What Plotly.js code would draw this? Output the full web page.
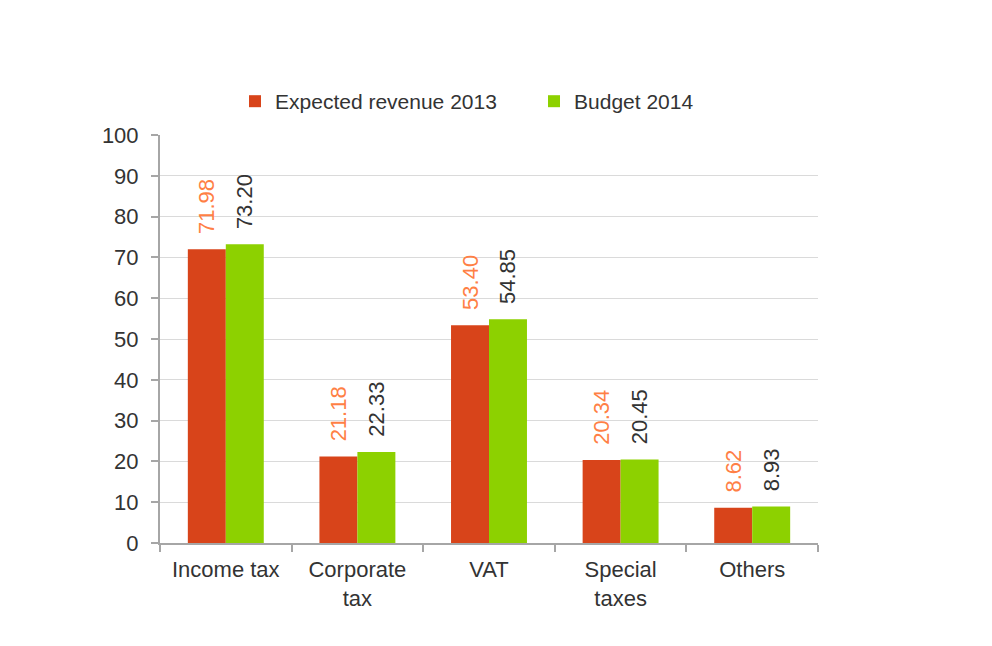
<!DOCTYPE html>
<html>
<head>
<meta charset="utf-8">
<script src="https://cdn.plot.ly/plotly-3.0.1.min.js"></script>
<style>html,body{margin:0;padding:0;background:#fff;}#chart{width:992px;height:646px;}</style>
</head>
<body>
<div id="chart"></div>
<script>
const categories = ["Income tax", "Corporate<br>tax", "VAT", "Special<br>taxes", "Others"];
const seriesNames = ["Expected revenue 2013", "Budget 2014"];
const revenue2013 = [71.98, 21.18, 53.40, 20.34, 8.62];
const budget2014 = [73.20, 22.33, 54.85, 20.45, 8.93];
const yTickValues = [0, 10, 20, 30, 40, 50, 60, 70, 80, 90, 100];

const pad = '\u00a0\u00a0';
const fontFam = 'Liberation Sans, Arial, sans-serif';

const traces = [
  {
    type: 'bar', name: seriesNames[0], x: categories, y: revenue2013,
    marker: {color: '#D8441A'},
    texttemplate: pad + '%{y:.2f}', textposition: 'outside', textangle: -90,
    textfont: {family: fontFam, size: 22, color: '#FF7F45'},
    cliponaxis: false, constraintext: 'none', hoverinfo: 'none'
  },
  {
    type: 'bar', name: seriesNames[1], x: categories, y: budget2014,
    marker: {color: '#8DD100'},
    texttemplate: pad + '%{y:.2f}', textposition: 'outside', textangle: -90,
    textfont: {family: fontFam, size: 22, color: '#333333'},
    cliponaxis: false, constraintext: 'none', hoverinfo: 'none'
  }
];

const layout = {
  width: 992, height: 646,
  margin: {l: 160, r: 174, t: 135, b: 103},
  paper_bgcolor: '#ffffff', plot_bgcolor: '#ffffff',
  font: {family: fontFam, size: 21, color: '#333333'},
  barmode: 'group', bargap: 0.423, bargroupgap: 0,
  showlegend: true,
  legend: {
    orientation: 'h', x: 0.114, xanchor: 'left', y: 1.082, yanchor: 'middle',
    font: {family: fontFam, size: 21, color: '#333333'},
    entrywidth: 254, bgcolor: 'rgba(0,0,0,0)'
  },
  xaxis: {
    type: 'category', showline: true, linecolor: '#a6a6a6', linewidth: 2,
    ticks: 'outside', tickson: 'boundaries', ticklen: 7, tickcolor: '#a6a6a6', tickwidth: 2,
    ticklabelstandoff: 6,
    tickfont: {family: fontFam, size: 22, color: '#333333'},
    showgrid: false, fixedrange: true
  },
  yaxis: {
    range: [0, 100], tickvals: yTickValues, ticktext: yTickValues.map(String),
    showline: true, linecolor: '#a6a6a6', linewidth: 2,
    ticks: 'outside', ticklen: 7, tickcolor: '#a6a6a6', tickwidth: 2,
    ticklabelstandoff: 8,
    showgrid: true, gridcolor: '#dadada', gridwidth: 1, zeroline: false,
    tickfont: {family: fontFam, size: 22, color: '#333333'},
    fixedrange: true
  }
};

Plotly.newPlot('chart', traces, layout, {displayModeBar: false, staticPlot: true});
</script>
</body>
</html>
